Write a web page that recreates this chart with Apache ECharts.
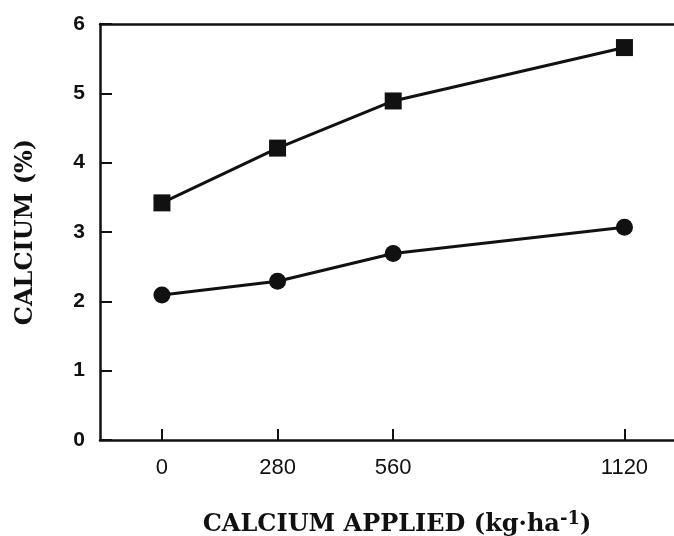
<!DOCTYPE html>
<html>
<head>
<meta charset="utf-8">
<script src="https://cdn.jsdelivr.net/npm/echarts@6/dist/echarts.min.js"></script>
<style>
  html, body { margin: 0; padding: 0; background: #fff; }
  #chart { width: 674px; height: 536px; }
</style>
</head>
<body>
<div id="chart"></div>
<script>
// data
const rates = [0, 280, 560, 1120];           // kg/ha applied
const squareSeries = [3.42, 4.21, 4.89, 5.66];
const circleSeries = [2.09, 2.29, 2.69, 3.07];
const yTicks = [0, 1, 2, 3, 4, 5, 6];

function pairs(xs, ys) {
    return xs.map(function (x, i) { return [x, ys[i]]; });
}

let myChart = echarts.init(document.getElementById('chart'));

const lineStyle = { color: '#111', width: 3 };
const titleFont = 'DejaVu Serif';

myChart.setOption({
    animation: false,
    grid: {
        left: 100,
        right: 0,
        top: 24,
        bottom: 96,
        outerBoundsMode: 'none'
    },
    xAxis: [
        {
            type: 'value',
            min: -150,
            max: 1240,
            name: 'CALCIUM APPLIED (kg·ha{sup|-1})',
            nameLocation: 'middle',
            nameGap: 70,
            nameTextStyle: {
                fontFamily: titleFont,
                fontWeight: 'bold',
                fontSize: 24,
                color: '#111',
                padding: [0, 0, 0, 20],
                rich: {
                    sup: {
                        fontFamily: titleFont,
                        fontWeight: 'bold',
                        fontSize: 18,
                        color: '#111',
                        verticalAlign: 'top',
                        padding: [0, 0, 12, 0]
                    }
                }
            },
            axisLine: { onZero: false, lineStyle: { color: '#111', width: 2.5 } },
            axisTick: { inside: true, length: 11, customValues: rates, lineStyle: { color: '#111', width: 2 } },
            axisLabel: {
                margin: 17,
                customValues: rates,
                formatter: function (v) { return String(v); },
                fontFamily: 'Liberation Sans',
                fontSize: 22,
                color: '#111'
            },
            splitLine: { show: false }
        },
        {
            type: 'value',
            position: 'top',
            min: -150,
            max: 1240,
            axisLine: { show: true, onZero: false, lineStyle: { color: '#111', width: 2.5 } },
            axisTick: { show: false },
            axisLabel: { show: false },
            splitLine: { show: false }
        }
    ],
    yAxis: {
        type: 'value',
        min: yTicks[0],
        max: yTicks[yTicks.length - 1],
        interval: 1,
        name: 'CALCIUM (%)',
        nameLocation: 'middle',
        nameGap: 62,
        nameTextStyle: {
            fontFamily: titleFont,
            fontWeight: 'bold',
            fontSize: 24,
            color: '#111'
        },
        axisLine: { show: true, onZero: false, lineStyle: { color: '#111', width: 2.5 } },
        axisTick: { show: true, inside: true, length: 12, lineStyle: { color: '#111', width: 2 } },
        axisLabel: {
            margin: 15,
            fontFamily: 'Liberation Sans',
            fontWeight: 'bold',
            fontSize: 21,
            color: '#111'
        },
        splitLine: { show: false }
    },
    series: [
        {
            name: 'square',
            type: 'line',
            data: pairs(rates, squareSeries),
            symbol: 'rect',
            symbolSize: 17,
            itemStyle: { color: '#111' },
            lineStyle: lineStyle
        },
        {
            name: 'circle',
            type: 'line',
            data: pairs(rates, circleSeries),
            symbol: 'circle',
            symbolSize: 17,
            itemStyle: { color: '#111' },
            lineStyle: lineStyle
        }
    ]
});
</script>
</body>
</html>
